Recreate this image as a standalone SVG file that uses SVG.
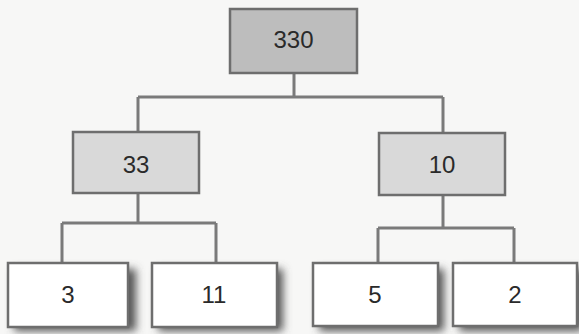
<svg xmlns="http://www.w3.org/2000/svg" width="579" height="334" viewBox="0 0 579 334">
<style>
.box{stroke:#6e6e6e;stroke-width:2.5}
.root{fill:#bdbdbd}
.mid{fill:#d9d9d9}
.leaf{fill:#ffffff}
.lbl{font-family:"Liberation Sans",Arial,sans-serif;font-size:24px;fill:#2a2a2a;text-anchor:middle}
.conn{fill:none;stroke:#7a7a7a;stroke-width:3}
</style>
<defs>
<filter id="sh" x="-20%" y="-20%" width="150%" height="150%">
<feGaussianBlur stdDeviation="4"/>
</filter>
</defs>
<rect width="579" height="334" fill="#f7f7f6"/>
<g id="connectors">
<path class="conn" d="M294 73V97M138 97H443M138 97V132M443 97V133"/>
<path class="conn" d="M138 193V223M62 223H216M62 223V263M216 223V263"/>
<path class="conn" d="M443 195V228M378 228H514M378 228V263M514 228V263"/>
</g>
<g id="n330">
<rect class="box root" x="230" y="9" width="127" height="64"/>
<text class="lbl" x="293.5" y="48">330</text>
</g>
<g id="n33">
<rect class="box mid" x="73" y="132" width="126" height="61"/>
<text class="lbl" x="136" y="173">33</text>
</g>
<g id="n10">
<rect class="box mid" x="379" y="133" width="126" height="62"/>
<text class="lbl" x="442" y="173">10</text>
</g>
<g id="n3">
<rect x="14" y="269" width="122" height="62" fill="#555" filter="url(#sh)"/>
<rect class="box leaf" x="8" y="263" width="120" height="64"/>
<text class="lbl" x="68" y="303">3</text>
</g>
<g id="n11">
<rect x="158" y="269" width="125" height="62" fill="#555" filter="url(#sh)"/>
<rect class="box leaf" x="152" y="263" width="125" height="64"/>
<text class="lbl" x="214" y="303">11</text>
</g>
<g id="n5">
<rect x="319" y="269" width="125" height="62" fill="#555" filter="url(#sh)"/>
<rect class="box leaf" x="313" y="263" width="125" height="63"/>
<text class="lbl" x="375" y="303">5</text>
</g>
<g id="n2">
<rect x="459" y="269" width="124" height="62" fill="#555" filter="url(#sh)"/>
<rect class="box leaf" x="453" y="263" width="124" height="63"/>
<text class="lbl" x="515" y="303">2</text>
</g>
</svg>
